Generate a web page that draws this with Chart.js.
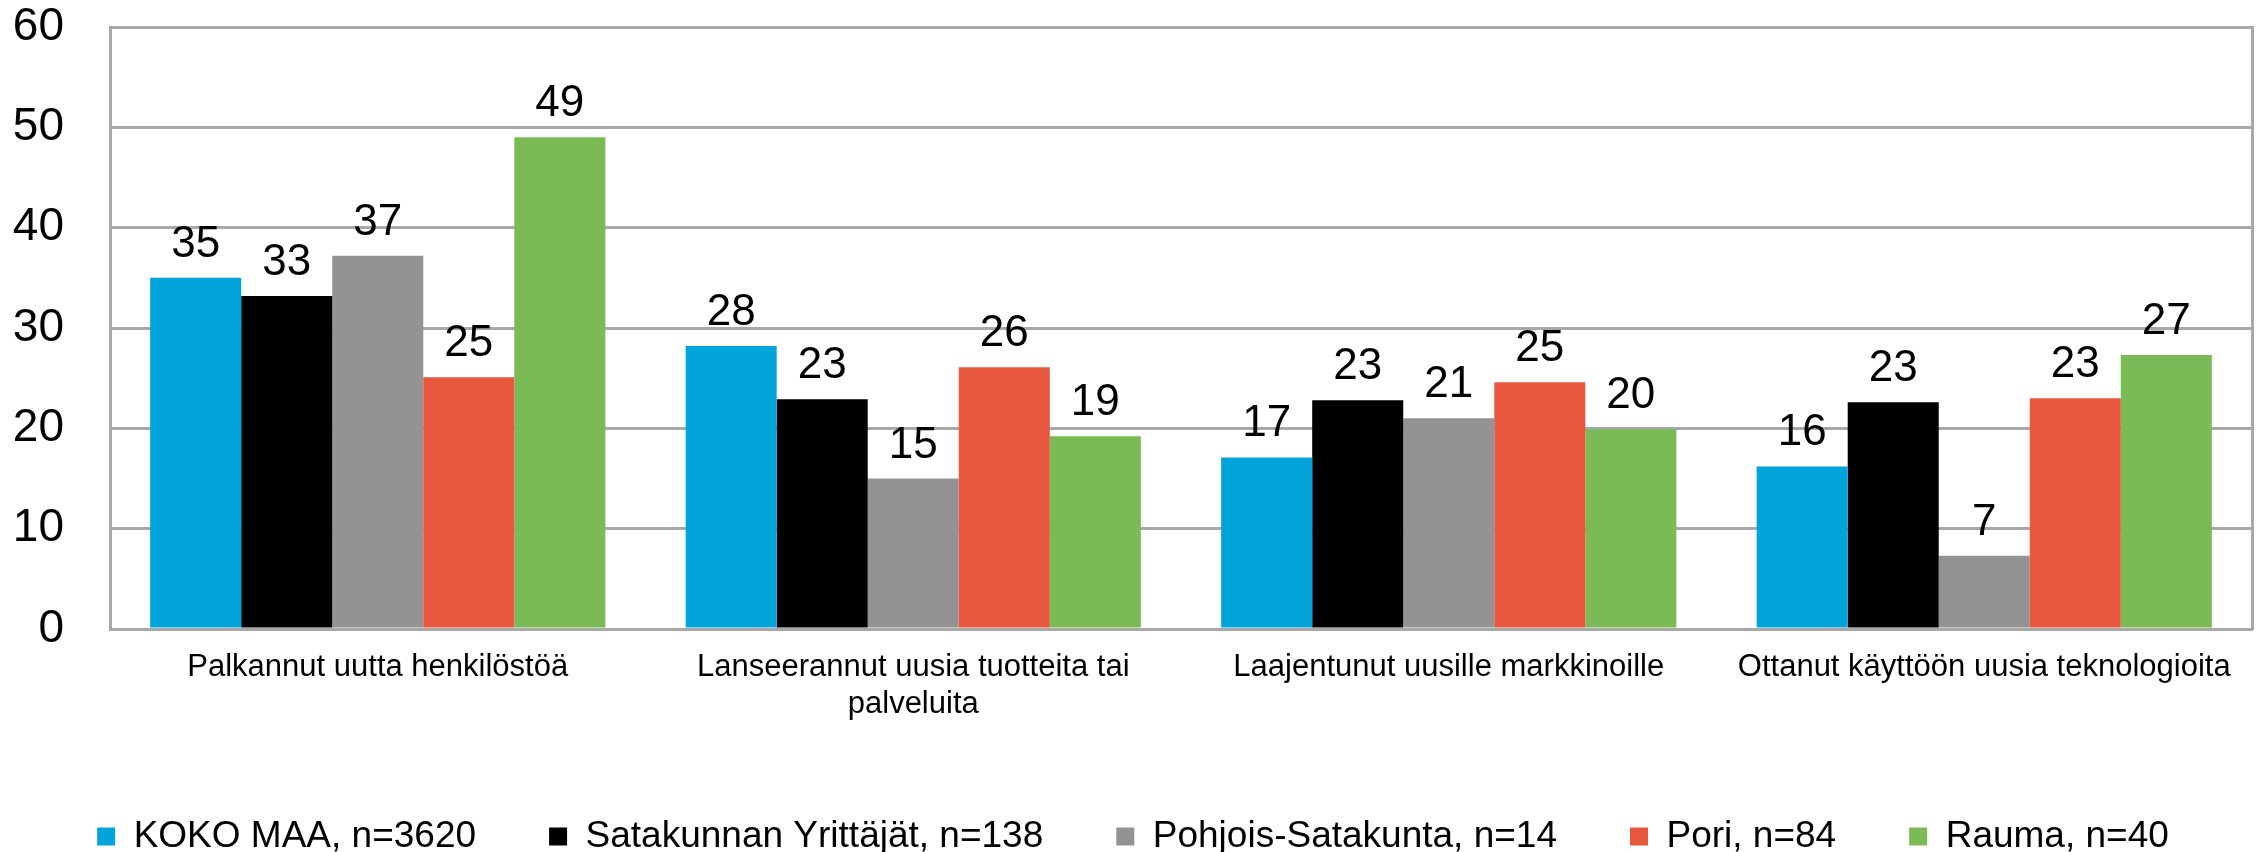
<!DOCTYPE html>
<html>
<head>
<meta charset="utf-8">
<script src="https://cdn.jsdelivr.net/npm/chart.js@4.4.1/dist/chart.umd.min.js"></script>
<style>
  html, body { margin: 0; padding: 0; background: #fff; }
  #wrap { width: 2262px; height: 852px; }
</style>
</head>
<body>
<div id="wrap"><canvas id="chart" width="2262" height="852"></canvas></div>
<script>
const categories = [
    'Palkannut uutta henkilöstöä',
    ['Lanseerannut uusia tuotteita tai', 'palveluita'],
    'Laajentunut uusille markkinoille',
    'Ottanut käyttöön uusia teknologioita'
];
const seriesNames = [
    'KOKO MAA, n=3620',
    'Satakunnan Yrittäjät, n=138',
    'Pohjois-Satakunta, n=14',
    'Pori, n=84',
    'Rauma, n=40'
];
const kokoMaa = [35.0, 28.2, 17.1, 16.2];
const satakunta = [33.2, 22.9, 22.8, 22.6];
const pohjoisSatakunta = [37.2, 15.0, 21.0, 7.3];
const pori = [25.1, 26.1, 24.6, 23.0];
const rauma = [49.0, 19.2, 19.9, 27.3];
const yTicks = [0, 10, 20, 30, 40, 50, 60];

const colors = ['#02A4D9', '#000000', '#939393', '#E8583F', '#7BBB55'];
const values = [kokoMaa, satakunta, pohjoisSatakunta, pori, rauma];
const gridColor = '#a8a8a8';
const fontFamily = '"Liberation Sans", Arial, sans-serif';

// value labels above each bar
const barLabels = {
    id: 'barLabels',
    afterDatasetsDraw(chart) {
        const ctx = chart.ctx;
        ctx.save();
        ctx.font = '44px ' + fontFamily;
        ctx.fillStyle = '#000';
        ctx.textAlign = 'center';
        ctx.textBaseline = 'alphabetic';
        chart.data.datasets.forEach((ds, i) => {
            chart.getDatasetMeta(i).data.forEach((bar, j) => {
                ctx.fillText(Math.round(ds.data[j]), bar.x, bar.y - 21);
            });
        });
        ctx.restore();
    }
};

// push the legend row down to the bottom edge like the original
const legendShift = {
    id: 'legendShift',
    afterLayout(chart) {
        chart.legend.top += 13;
        chart.legend.bottom += 13;
    }
};

new Chart(document.getElementById('chart').getContext('2d'), {
    type: 'bar',
    data: {
        labels: categories,
        datasets: seriesNames.map((name, i) => ({
            label: name,
            data: values[i],
            backgroundColor: colors[i],
            borderWidth: 0,
            barPercentage: 1,
            categoryPercentage: 0.85
        }))
    },
    options: {
        responsive: false,
        animation: false,
        layout: { padding: { left: 13, right: 9, top: 0, bottom: 0 } },
        plugins: {
            title: { display: false },
            tooltip: { enabled: false },
            legend: {
                display: true,
                position: 'bottom',
                labels: {
                    color: '#000',
                    font: { family: fontFamily, size: 37 },
                    boxWidth: 18,
                    boxHeight: 18,
                    padding: 73
                }
            }
        },
        scales: {
            x: {
                grid: { display: false, drawTicks: false },
                border: { display: true, color: gridColor, width: 3 },
                ticks: {
                    color: '#000',
                    padding: 20,
                    maxRotation: 0,
                    autoSkip: false,
                    font: { family: fontFamily, size: 31 }
                },
                afterFit(scale) {
                    scale.height = 103;
                    scale.paddingLeft = 0;
                    scale.paddingRight = 0;
                }
            },
            y: {
                min: 0,
                max: 60,
                afterBuildTicks(scale) { scale.ticks = yTicks.map(v => ({ value: v })); },
                grid: { color: gridColor, lineWidth: 3, drawTicks: false },
                border: { display: true, color: gridColor, width: 3 },
                ticks: {
                    color: '#000',
                    padding: 46,
                    font: { family: fontFamily, size: 46 }
                },
                afterFit(scale) {
                    scale.width = 97;
                    scale.paddingTop = 27;
                    scale.paddingBottom = 0;
                }
            },
            y2: {
                position: 'right',
                min: 0,
                max: 60,
                grid: { drawOnChartArea: false, drawTicks: false },
                border: { display: true, color: gridColor, width: 3 },
                ticks: { display: false },
                afterFit(scale) {
                    scale.width = 1;
                    scale.paddingTop = 0;
                    scale.paddingBottom = 0;
                }
            }
        }
    },
    plugins: [barLabels, legendShift]
});
</script>
</body>
</html>
